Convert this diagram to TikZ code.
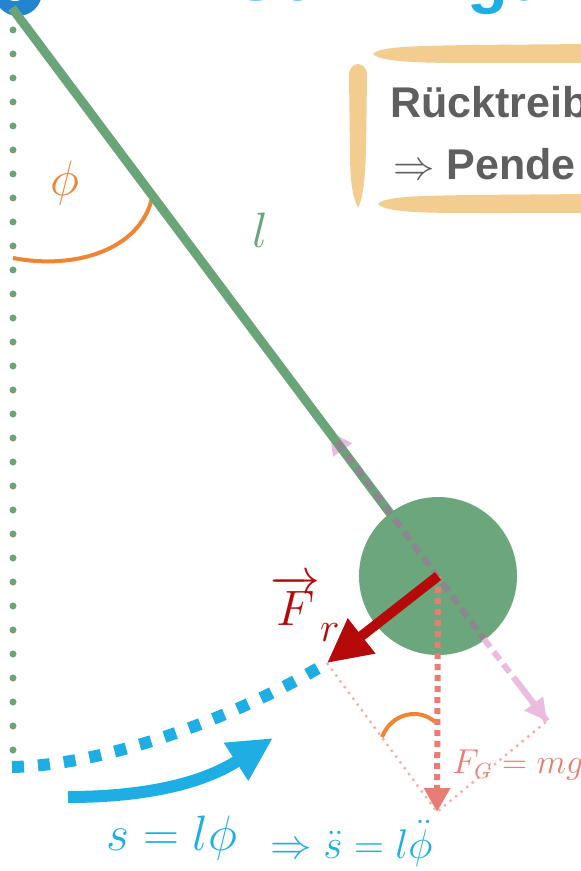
\documentclass[tikz,border=0pt]{standalone}
\usepackage{fontspec}
\newfontfamily\hel{Liberation Sans}
\usetikzlibrary{arrows.meta}
\definecolor{rodgreen}{RGB}{106,165,122}
\definecolor{bobgreen}{RGB}{108,166,124}
\definecolor{pivotblue}{RGB}{36,132,208}
\definecolor{cyanblue}{RGB}{30,174,227}
\definecolor{orangearc}{RGB}{238,132,52}
\definecolor{brush}{RGB}{242,205,143}
\definecolor{textgray}{RGB}{95,95,95}
\definecolor{darkred}{RGB}{180,10,10}
\definecolor{salmon}{RGB}{232,125,117}
\definecolor{pinklight}{RGB}{236,188,224}
\definecolor{pinkgray}{RGB}{141,134,142}
\definecolor{lightpink}{RGB}{245,175,175}
\tikzset{
  lbl/.style={inner sep=0pt, anchor=base west},
  angarc/.style={draw=orangearc, line width=2pt},
  rodline/.style={draw=rodgreen, line width=4.5pt},
  pinktip/.style={draw=pinklight, fill=pinklight, line width=3pt, -{Triangle[length=11pt,width=11pt]}},
  pinkdash/.style={draw=pinklight, line width=3pt, dash pattern=on 5pt off 3pt},
  graydash/.style={draw=pinkgray, line width=3pt, dash pattern=on 5pt off 3pt},
  reddots/.style={draw=salmon, line width=3pt, dash pattern=on 3pt off 2.5pt,
     -{Triangle[length=12pt,width=12.5pt]}},
  helpline/.style={draw=lightpink, line width=1.2pt, dash pattern=on 1.2pt off 2.4pt},
  frarrow/.style={draw=darkred, fill=darkred, line width=5pt, -{Triangle[length=22pt,width=21pt]}},
  bluedots/.style={draw=cyanblue, line width=6pt, dash pattern=on 6pt off 7pt},
  bluearrow/.style={draw=cyanblue, line width=6pt, -{Triangle[length=22pt,width=21pt]}},
  brushfill/.style={fill=brush, draw=none},
}
\begin{document}
\begin{tikzpicture}[x=0.5pt,y=0.5pt]
\useasboundingbox (0,0) rectangle (581,-871);
\clip (0,0) rectangle (581,-871);

% title (cut off at the top)
\node[lbl, text=cyanblue, font=\hel\bfseries\fontsize{33.5}{40}\selectfont] (title) at (233,-1) {Schwingung};

% brush box
\fill[brushfill] (373,-54) .. controls (380,-46) and (420,-46) .. (470,-45) -- (590,-44)
   -- (590,-63) -- (470,-63) .. controls (420,-63) and (380,-62) .. cycle;
\fill[brushfill] (349,-76) .. controls (349,-60) and (367,-60) .. (367,-76)
   -- (366,-150) .. controls (365,-185) and (362,-200) .. (358,-208)
   .. controls (352,-195) and (350,-180) .. (350,-150) -- cycle;
\fill[brushfill] (378,-204) .. controls (385,-196) and (420,-196) .. (470,-195) -- (590,-194)
   -- (590,-213) -- (470,-213) .. controls (420,-213) and (385,-212) .. cycle;
\node[lbl, text=textgray, font=\hel\bfseries\fontsize{21.5}{26}\selectfont] (t1) at (390,-118) {Rücktreib};
\node[lbl, text=textgray, font=\hel\bfseries\fontsize{21.5}{26}\selectfont] (t2) at (393,-180) {$\Rightarrow$ Pende};

% vertical dotted line
\foreach \k in {0,...,30} \fill[rodgreen] (13,-30-24*\k) circle (3.5);

% coordinates
\coordinate (pivot) at (12,-8);
\coordinate (bobc) at (437,-576);
\coordinate (pinkA) at (330,-432);
\coordinate (pinkA2) at (337,-442);
\coordinate (bobedge) at (484,-639);
\coordinate (pinkB2) at (515,-679);
\coordinate (pinkB) at (547,-721);
\coordinate (FGtip) at (437,-812);
\coordinate (Frtip) at (327,-663);
\coordinate (a0) at (13,-258);
\coordinate (a1) at (152,-198);
\coordinate (b0) at (382,-737);
\coordinate (b1) at (435,-722);
\coordinate (s0) at (12,-767);
\coordinate (c0) at (68,-797);
\coordinate (c1) at (273,-738);

% angle phi at top
\draw[angarc] (a0) .. controls (75,-270) and (140,-250) .. (a1);

% pivot ring (mostly cut off by the top edge)
\fill[pivotblue] (18,8) circle (24);
\fill[white] (15,14) circle (15);

% upper pink tip (under the rod)
\draw[pinktip] (pinkA2) -- (pinkA);

% rod
\draw[rodline] (pivot) -- (bobc);

% bob
\node[circle, fill=bobgreen, minimum size=79pt, inner sep=0pt] (bob) at (438,-576) {};

% components
\draw[graydash] (pinkA2) -- (bobedge);
\draw[pinkdash] (bobedge) -- (pinkB);
\draw[pinktip] (pinkB2) -- (pinkB);
\draw[reddots] (bob.center) -- (FGtip);
\draw[helpline] (Frtip) -- (FGtip) -- (pinkB);
\draw[angarc] (b0) .. controls (392,-712) and (420,-708) .. (b1);

% arc length s
\draw[bluedots] (s0) .. controls (110,-765) and (240,-715) .. (Frtip);
\draw[bluearrow] (c0) .. controls (140,-797) and (200,-785) .. (c1);

% restoring force
\draw[frarrow] (bob.center) -- (Frtip);

% labels
\node[text=orangearc, font=\fontsize{26}{30}\selectfont] (phi) at (65,-183) {$\phi$};
\node[text=rodgreen, font=\fontsize{33}{38}\selectfont] (ell) at (260,-230) {$l$};
\node[lbl, text=darkred, font=\fontsize{26}{30}\selectfont] (Fr) at (270,-625) {$\overrightarrow{F}$\raisebox{-8pt}{\fontsize{20}{24}\selectfont$r$}};
\node[lbl, text=salmon, font=\fontsize{16}{19}\selectfont] (FG) at (452,-773) {$F_G = mg$};
\node[lbl, text=cyanblue, font=\fontsize{23}{27}\selectfont] (s) at (106,-850) {$s = l\phi$};
\node[lbl, text=cyanblue, font=\fontsize{20}{24}\selectfont] (sdd) at (270,-858) {$\Rightarrow \ddot{s} = l\ddot{\phi}$};
\end{tikzpicture}
\end{document}
